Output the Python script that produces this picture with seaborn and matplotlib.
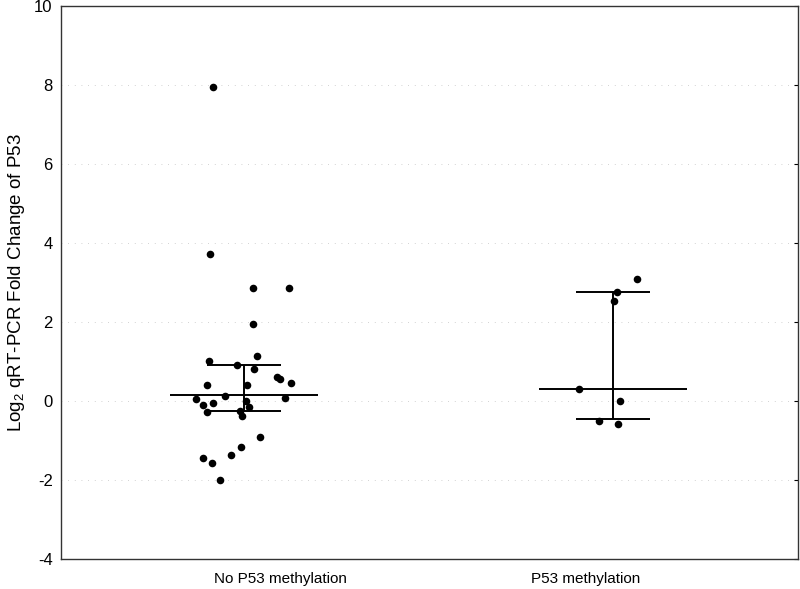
import matplotlib
matplotlib.use("Agg")
import matplotlib.pyplot as plt
import matplotlib.transforms as mtransforms
import numpy as np
import pandas as pd
import seaborn as sns

# Data
groups = ["No P53 methylation", "P53 methylation"]

no_meth = [7.95, 3.71, 2.87, 2.85, 1.94, 1.14, 1.02, 0.90, 0.80, 0.62,
           0.57, 0.41, 0.41, 0.45, 0.13, 0.04, 0.08, -0.06, -0.09, 0.01,
           -0.28, -0.16, -0.25, -0.38, -0.91, -1.16, -1.36, -1.43, -1.56, -1.99]
no_meth_jitter = [-0.083, -0.092, 0.025, 0.123, 0.025, 0.036, -0.094, -0.018, 0.027, 0.089,
                  0.099, -0.101, 0.009, 0.128, -0.051, -0.130, 0.110, -0.083, -0.110, 0.005,
                  -0.101, 0.014, -0.011, -0.005, 0.045, -0.009, -0.034, -0.110, -0.085, -0.065]

meth = [3.09, 2.75, 2.53, 0.31, -0.01, -0.50, -0.57]
meth_jitter = [0.065, 0.011, 0.003, -0.092, 0.019, -0.038, 0.014]

# median and interquartile range as drawn
medians = [0.14, 0.31]
q1 = [-0.26, -0.46]
q3 = [0.92, 2.76]

yticks = [-4, -2, 0, 2, 4, 6, 8, 10]

df = pd.DataFrame({
    "group": [groups[0]] * len(no_meth) + [groups[1]] * len(meth),
    "value": no_meth + meth,
    "jitter": no_meth_jitter + meth_jitter,
})
df["x"] = df["group"].map({g: i for i, g in enumerate(groups)}) + df["jitter"]

sns.set_style("white")
plt.rcParams["font.family"] = ["Liberation Sans", "DejaVu Sans"]
plt.rcParams["mathtext.fontset"] = "custom"
plt.rcParams["mathtext.rm"] = "Liberation Sans"
plt.rcParams["mathtext.default"] = "regular"
plt.rcParams["axes.unicode_minus"] = False
plt.rcParams["text.color"] = "black"
plt.rcParams["axes.labelcolor"] = "black"

fig = plt.figure(figsize=(8, 5.89), dpi=100)
ax = fig.add_axes([0.07625, 0.0509, 0.9213, 0.9389])

# sparse dotted grid
for y in yticks[1:-1]:
    ax.axhline(y, color="#c4c4c4", lw=0.6, ls=(0, (1, 7)), zorder=0)

sns.scatterplot(data=df, x="x", y="value", color="black", s=30,
                edgecolor="black", linewidth=0, ax=ax, zorder=3, legend=False)

lw = 1.4
for i in range(len(groups)):
    ax.hlines(medians[i], i - 0.2, i + 0.2, color="black", lw=lw, zorder=2)
    ax.hlines([q1[i], q3[i]], i - 0.1, i + 0.1, color="black", lw=lw, zorder=2)
    ax.vlines(i, q1[i], q3[i], color="black", lw=lw, zorder=2)

ax.set_xlim(-0.495, 1.5)
ax.set_ylim(-4, 10)
ax.set_yticks(yticks)
ax.set_xticks(range(len(groups)))
ax.set_xticklabels(groups)
ax.set_xlabel("")
ax.set_ylabel("Log$_2$ qRT-PCR Fold Change of P53", fontsize=13.5, labelpad=5,
              color="black")

ax.tick_params(axis="both", direction="in", length=3, width=0.8,
               labelsize=11, colors="black", top=False, right=True)
ax.tick_params(axis="x", pad=9)
ax.tick_params(axis="y", pad=6)
ax.yaxis.set_tick_params(labelsize=12)

for s in ax.spines.values():
    s.set_visible(True)
    s.set_color("#333333")
    s.set_linewidth(1.0)

# label offsets as in the reference
offsets = [37, -28]
for lab, dx in zip(ax.get_xticklabels(), offsets):
    lab.set_transform(lab.get_transform() +
                      mtransforms.ScaledTranslation(dx / 100, 0, fig.dpi_scale_trans))

fig.savefig("out.png", dpi=100)
